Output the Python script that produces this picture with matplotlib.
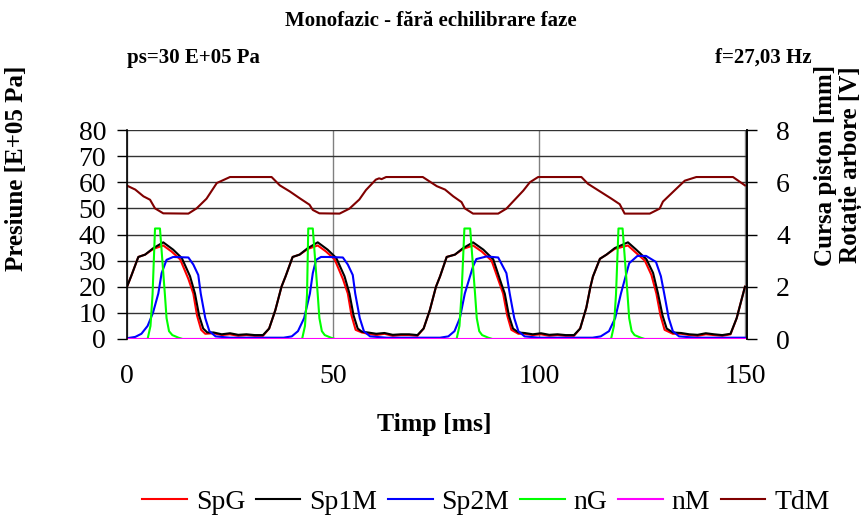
import matplotlib
matplotlib.use('Agg')
import matplotlib.pyplot as plt

plt.rcParams['font.family'] = ['Liberation Serif', 'DejaVu Serif']

# time [ms] / value pairs (pressure in E+05 Pa)
sp1m_t = [0, 1, 2.75, 4.4, 6.4, 8.8, 11.2, 13.3, 15.3, 16.5, 17.5, 18.5, 19.5, 21, 23, 25, 27, 29, 31, 33, 34.5, 36,
          37.5, 38.5, 40.2, 41.9, 43.9, 46.3, 48.7, 50.8, 52.8, 54, 55, 56, 57, 58.5, 60.5, 62.5, 64.5, 66.5, 68.5, 70.5, 72, 73.5,
          75, 76, 77.6, 79.6, 81.6, 84, 86.5, 88.9, 90.9, 91.7, 92.7, 93.7, 95, 96.5, 98.5, 100.5, 102.5, 104.5, 106.5, 108.5, 110, 111.5,
          112.5, 113.1, 114.8, 116.4, 118.4, 121.6, 123.6, 126.1, 127.7, 128.9, 130, 131, 132.5, 134.5, 136.5, 138.5, 140.5, 142.5, 144.5, 146.5, 148, 150]
sp1m = [20, 24, 31.4, 32.3, 34.8, 37, 34.2, 31, 24, 17.4, 9, 4, 2.5, 2.5, 1.8, 2.2, 1.6, 1.8, 1.5, 1.5, 4, 11,
        20, 24, 31.4, 32.3, 34.8, 37, 34.2, 31, 24, 17.4, 9, 4, 2.8, 2.5, 2, 2.3, 1.6, 1.8, 1.8, 1.5, 4, 11,
        20, 24, 31.4, 32.3, 34.8, 37, 34.2, 30.5, 21, 17.4, 9, 4, 2.5, 2.3, 1.8, 2.2, 1.6, 1.8, 1.5, 1.5, 4, 12,
        20, 23.9, 30.7, 32.3, 34.8, 37, 34.2, 30.5, 25.3, 17.4, 9, 4, 2.5, 2.3, 1.8, 1.6, 2.2, 1.8, 1.5, 2, 8, 20]

spg_t = [0, 1, 2.75, 4.4, 6.4, 8.8, 10.8, 12.9, 14.9, 16.1, 17, 18, 19, 21, 23, 25, 27, 29, 31, 33, 34.5, 36,
         37.5, 38.5, 40.2, 41.9, 43.9, 46.3, 48.3, 50.4, 52.4, 53.6, 54.5, 55.5, 57, 58.5, 60.5, 62.5, 64.5, 66.5, 68.5, 70.5, 72, 73.5,
         75, 76, 77.6, 79.6, 81.6, 84, 86.1, 88.5, 90.5, 91.3, 92.3, 93.3, 95, 96.5, 98.5, 100.5, 102.5, 104.5, 106.5, 108.5, 110, 111.5,
         112.5, 113.1, 114.8, 116.4, 118.4, 121.6, 123.2, 125.7, 127.3, 128.5, 129.5, 130.5, 132.5, 134.5, 136.5, 138.5, 140.5, 142.5, 144.5, 146.5, 148, 150]
spg = [20, 24, 31.4, 32.3, 34.5, 35.8, 33.5, 30.5, 23, 17.4, 9, 3.5, 2, 2.2, 1.5, 1.8, 1.2, 1.5, 1.2, 1.2, 4, 11,
       20, 24, 31.4, 32.3, 34.5, 35.8, 33.5, 30.5, 23, 17.4, 9, 3.5, 2.5, 2, 1.5, 2, 1.2, 1.5, 1.5, 1.2, 4, 11,
       20, 24, 31.4, 32.3, 34.5, 35.8, 33.5, 30, 21, 17.4, 9, 3.5, 2, 2, 1.5, 1.8, 1.2, 1.5, 1.2, 1.2, 4, 12,
       20, 23.9, 30.7, 32.3, 34.5, 35.8, 33.5, 30, 24.5, 17.4, 9, 3.5, 2, 2, 1.5, 1.2, 1.8, 1.5, 1.2, 1.8, 8, 20]

sp2m_t = [0, 2, 3.5, 5, 6.3, 7.6, 8.4, 9.6, 11.2, 14.9, 16.1, 17.3, 17.9, 19, 20, 21.5, 25, 30, 35, 38, 40, 41.5, 43,
          44.4, 45.1, 45.9, 47.1, 48.7, 52.4, 53.6, 54.8, 55.4, 56.5, 57.5, 59, 63, 68, 73, 76, 78, 79.5, 80.8,
          82, 84, 84.8, 87.3, 90.1, 92.1, 92.9, 94, 95, 96.5, 100, 105, 110, 113, 115, 117, 118.5,
          119.9, 121.9, 123.9, 126, 128.4, 129.6, 130.4, 131.5, 132.5, 134, 138, 143, 150]
sp2m = [0.3, 0.8, 2, 5, 10, 17.4, 25.2, 30.3, 31.4, 31.2, 28.5, 24.5, 17.4, 8, 3, 1, 0.5, 0.5, 0.5, 0.5, 1, 3, 8,
        17.4, 25.2, 30.3, 31.4, 31.4, 31.2, 28.5, 24.5, 17.4, 8, 3, 1, 0.5, 0.5, 0.5, 0.5, 1, 3, 8,
        17.4, 27.8, 30.6, 31.6, 31.2, 25.2, 17.4, 8, 3, 1, 0.5, 0.5, 0.5, 0.5, 1, 3, 8,
        17.4, 29, 31.8, 31.8, 29.5, 24, 17.4, 8, 3, 1, 0.5, 0.5, 0.5]

ng_t = [0, 5, 5.7, 6.2, 6.8, 8.0, 9.2, 9.6, 10.2, 11, 12.5, 13.5,
        42.5, 43.2, 43.7, 44.0, 45.1, 46.3, 46.7, 47.3, 48, 49.5, 50.5,
        80, 80.7, 81.2, 81.9, 83.3, 84.5, 84.9, 85.5, 86.2, 87.7, 88.7,
        117.5, 118.2, 118.7, 119.3, 120.3, 121.5, 121.9, 122.5, 123.2, 124.7, 125.7, 150]
ng = [0, 0, 5, 17, 42.3, 42.3, 17, 8, 3, 1.5, 0.5, 0,
      0, 5, 17, 42.3, 42.3, 17, 8, 3, 1.5, 0.5, 0,
      0, 5, 17, 42.3, 42.3, 17, 8, 3, 1.5, 0.5, 0,
      0, 5, 17, 42.3, 42.3, 17, 8, 3, 1.5, 0.5, 0, 0]

nm_t = [0, 150]
nm = [0, 0]

tdm_t = [0, 2, 4, 5.6, 6.8, 8.8, 14.9, 16.9, 19.3, 21.8, 25, 35.1,
         37.1, 39.5, 41.9, 44.3, 45.1, 46.7, 51.6, 54.0, 56.4, 58.0, 60.4, 61.2, 61.8, 62.9, 71.8,
         75.2, 77.2, 79.2, 81.2, 82, 84, 90.1, 92.1, 93.7, 96.2, 97.8, 99.8, 110.3,
         111.9, 114.8, 117.6, 119.6, 120.8, 126.9, 129.3, 130.1, 133, 135.4, 138.2, 147.1, 150]
tdm = [58.7, 57.2, 54.6, 53.3, 50, 48.1, 48, 50, 53.7, 59.7, 62, 62,
       58.8, 56.5, 53.9, 51.4, 49.4, 48.1, 48, 49.9, 53.4, 57, 61, 61.5, 61.2, 62, 62,
       58.5, 57.2, 54.6, 52.4, 50, 48, 48, 49.9, 52.6, 56.8, 60, 62, 62,
       59.4, 56.5, 53.7, 51.6, 48, 48, 49.9, 52.6, 57, 60.6, 62, 62, 58.8]

fig = plt.figure(figsize=(8.62, 5.22), dpi=100)
ax = fig.add_axes([127 / 862, 1 - 339 / 522, 620 / 862, 209 / 522])

ax.plot(spg_t, spg, color='#ff0000', lw=1.5, label='SpG')
ax.plot(sp1m_t, sp1m, color='#000000', lw=1.5, label='Sp1M')
ax.plot(sp2m_t, sp2m, color='#0000ff', lw=1.5, label='Sp2M')
ax.plot(ng_t, ng, color='#00ff00', lw=1.5, label='nG')
ax.plot(nm_t, nm, color='#ff00ff', lw=1.5, label='nM')
ax.plot(tdm_t, tdm, color='#800000', lw=1.5, label='TdM')

ax.set_xlim(0, 150.5)
ax.set_ylim(0, 80)
ax.set_yticks(range(0, 81, 10))
ax.set_xticks([0, 50, 100, 150])
ax.tick_params(axis='y', direction='out', length=7, width=1, labelsize=20, pad=8)
ax.tick_params(axis='x', length=0, labelsize=20, pad=18)
ax.grid(True, axis='y', color='#333333', lw=1)
ax.grid(True, axis='x', color='#808080', lw=1)
ax.set_axisbelow(True)
for s in ['top', 'bottom']:
    ax.spines[s].set_visible(False)
ax.spines['left'].set_linewidth(1.2)
ax.spines['right'].set_linewidth(1.2)

ax2 = ax.twinx()
ax2.set_ylim(0, 8)
ax2.set_yticks(range(0, 9, 2))
ax2.tick_params(axis='y', direction='out', length=7, width=1, labelsize=20, pad=14)
for s in ['top', 'bottom', 'left']:
    ax2.spines[s].set_visible(False)
ax2.spines['right'].set_linewidth(1.2)

fig.text(434 / 862, 1 - 425 / 522, 'Timp [ms]', ha='center', va='center',
         fontsize=18.5, fontweight='bold')
fig.text(17 / 862, 1 - 168 / 522, 'Presiune [E+05 Pa]', rotation=90, ha='center', va='center',
         fontsize=18, fontweight='bold')
fig.text(826 / 862, 1 - 165 / 522, 'Cursa piston [mm]', rotation=90, ha='center', va='center',
         fontsize=18, fontweight='bold')
fig.text(851 / 862, 1 - 165 / 522, 'Rotație arbore [V]', rotation=90, ha='center', va='center',
         fontsize=18, fontweight='bold')

fig.text(0.5, 1 - 21 / 522, 'Monofazic - fără echilibrare faze', ha='center', va='center',
         fontsize=15, fontweight='bold')
fig.text(127 / 862, 1 - 58 / 522, 'ps=30 E+05 Pa', ha='left', va='center', fontsize=15, fontweight='bold')
fig.text(812 / 862, 1 - 58 / 522, 'f=27,03 Hz', ha='right', va='center', fontsize=15, fontweight='bold')

fig.legend(loc='center', bbox_to_anchor=(486 / 862, 1 - 502 / 522), ncol=6, frameon=False,
           fontsize=20, handlelength=1.6, handletextpad=0.32, columnspacing=0.39)

fig.savefig('out.png', dpi=100)
